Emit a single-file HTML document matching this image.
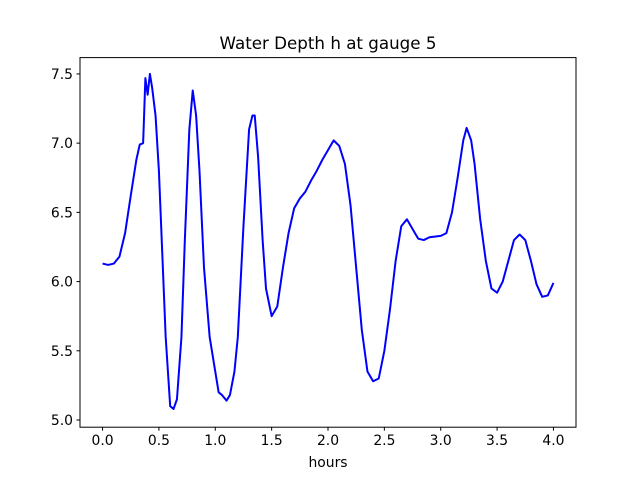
<!DOCTYPE html>
<html><head><meta charset="utf-8"><style>
html,body{margin:0;padding:0;background:#fff;}
svg{display:block;font-family:"DejaVu Sans","Liberation Sans",sans-serif;}
</style></head><body>
<svg id="chart" width="640" height="480" viewBox="0 0 640 480">
<rect width="640" height="480" fill="#fff"/>
<text x="328" y="49" text-anchor="middle" font-size="16.7">Water Depth h at gauge 5</text>
<g id="ticks"></g>
<path id="line" fill="none" stroke="#0000ff" stroke-width="2" stroke-linejoin="round"/>
<rect x="80" y="57.6" width="496" height="369.6" fill="none" stroke="#000" stroke-width="1"/>
<text x="328" y="467" text-anchor="middle" font-size="13.9">hours</text>
</svg>
<script>
const hours=[0,0.05,0.1,0.15,0.2,0.25,0.3,0.33,0.36,0.38,0.40,0.42,0.44,0.47,0.5,0.53,0.56,0.6,0.63,0.66,0.7,0.73,0.77,0.8,0.83,0.86,0.9,0.95,1.0,1.03,1.06,1.1,1.13,1.17,1.2,1.25,1.3,1.33,1.35,1.38,1.42,1.45,1.5,1.55,1.6,1.65,1.7,1.75,1.8,1.85,1.9,1.95,2.0,2.05,2.1,2.15,2.2,2.25,2.3,2.35,2.4,2.45,2.5,2.55,2.6,2.65,2.7,2.75,2.8,2.85,2.9,3.0,3.05,3.1,3.15,3.2,3.23,3.27,3.3,3.35,3.4,3.45,3.5,3.55,3.6,3.65,3.7,3.75,3.8,3.85,3.9,3.95,4.0];
const depth=[6.13,6.12,6.13,6.18,6.35,6.62,6.88,6.99,7.0,7.47,7.35,7.5,7.4,7.2,6.8,6.2,5.6,5.1,5.08,5.15,5.6,6.3,7.1,7.38,7.2,6.8,6.1,5.6,5.35,5.2,5.18,5.14,5.18,5.35,5.6,6.4,7.1,7.2,7.2,6.9,6.3,5.95,5.75,5.82,6.1,6.35,6.53,6.6,6.65,6.73,6.8,6.88,6.95,7.02,6.98,6.85,6.55,6.1,5.65,5.35,5.28,5.3,5.5,5.8,6.15,6.4,6.45,6.38,6.31,6.3,6.32,6.33,6.35,6.5,6.75,7.02,7.11,7.02,6.85,6.45,6.15,5.95,5.92,6.0,6.15,6.3,6.34,6.3,6.15,5.98,5.89,5.9,5.99];
const xTicks=[0,0.5,1,1.5,2,2.5,3,3.5,4];
const xTickLabels=["0.0","0.5","1.0","1.5","2.0","2.5","3.0","3.5","4.0"];
const yTicks=[5,5.5,6,6.5,7,7.5];
const yTickLabels=["5.0","5.5","6.0","6.5","7.0","7.5"];
const L=80,R=576,T=57.6,B=427.2;
const xmin=-0.2,xmax=4.2,ymin=4.948,ymax=7.618;
const X=v=>L+(v-xmin)/(xmax-xmin)*(R-L);
const Y=v=>B-(v-ymin)/(ymax-ymin)*(B-T);
const ns="http://www.w3.org/2000/svg";
const g=document.getElementById('ticks');
function mk(t,a){const e=document.createElementNS(ns,t);for(const k in a)e.setAttribute(k,a[k]);return e;}
xTicks.forEach((v,i)=>{
 const l=mk('line',{x1:X(v),x2:X(v),y1:B,y2:B+3.5,stroke:'#000'});
 
 
 g.appendChild(l);
 const t=mk('text',{x:X(v),y:B+18,'text-anchor':'middle','font-size':'13.9'});
 t.textContent=xTickLabels[i];
 
 
 g.appendChild(t);
});
yTicks.forEach((v,i)=>{
 const l=mk('line',{x1:L-3.5,x2:L,y1:Y(v),y2:Y(v),stroke:'#000'});
 
 
 g.appendChild(l);
 const t=mk('text',{x:L-7,y:Y(v)+5,'text-anchor':'end','font-size':'13.9'});
 t.textContent=yTickLabels[i];
 
 
 g.appendChild(t);
});
document.getElementById('line').setAttribute('d',hours.map((h,i)=>(i?'L':'M')+X(h).toFixed(2)+' '+Y(depth[i]).toFixed(2)).join(' '));
</script>
</body></html>
